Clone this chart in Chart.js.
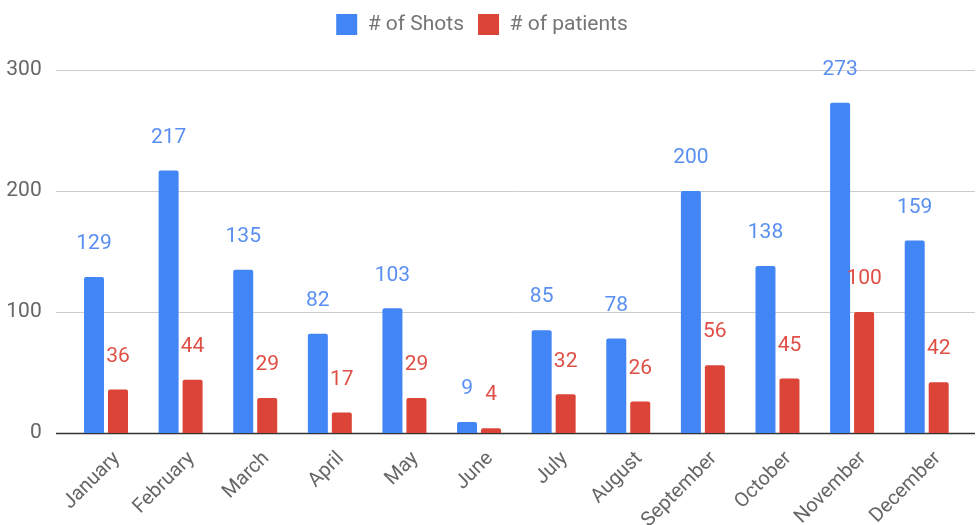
<!DOCTYPE html>
<html><head><meta charset="utf-8">
<script src="https://cdn.jsdelivr.net/npm/chart.js@4"></script>
<style>html,body{margin:0;padding:0;background:#fff}#wrap{width:977px;height:525px;position:relative}</style>
</head><body><div id="wrap"><canvas id="c"></canvas></div>
<script>
const categories = ["January","February","March","April","May","June","July","August","September","October","November","December"];
const shots = [129,217,135,82,103,9,85,78,200,138,273,159];
const patients = [36,44,29,17,29,4,32,26,56,45,100,42];
const yTicks = [0,100,200,300];
const seriesNames = ["# of Shots","# of patients"];

const FONT = "Roboto, 'Noto Sans', sans-serif";

const gridPlugin = {
  id: 'gridPlugin',
  beforeDatasetsDraw(chart){
    const ctx = chart.ctx, y = chart.scales.y;
    ctx.save();
    yTicks.forEach(v => {
      const py = Math.round(y.getPixelForValue(v)) + 0.5;
      ctx.beginPath();
      ctx.strokeStyle = v === 0 ? '#333333' : '#cccccc';
      ctx.lineWidth = v === 0 ? 1.5 : 1;
      ctx.moveTo(56, py); ctx.lineTo(975, py); ctx.stroke();
    });
    ctx.restore();
  }
};

const labelPlugin = {
  id: 'labelPlugin',
  afterDatasetsDraw(chart){
    const ctx = chart.ctx;
    ctx.save();
    ctx.font = "21px " + FONT;
    ctx.textAlign = 'center';
    ctx.textBaseline = 'middle';
    const colors = ['#5a8ff2', '#df4f45'];
    chart.data.datasets.forEach((ds, di) => {
      const meta = chart.getDatasetMeta(di);
      meta.data.forEach((bar, i) => {
        ctx.fillStyle = colors[di];
        ctx.fillText(String(ds.data[i]), bar.x, bar.y - 33);
      });
    });
    ctx.restore();
  }
};

const legendHeight = {
  id: 'legendHeight',
  beforeInit(chart){
    const orig = chart.legend.fit;
    chart.legend.fit = function(){ orig.call(this); this.height = 70; };
  }
};

new Chart(document.getElementById('c'), {
  type: 'bar',
  data: {
    labels: categories,
    datasets: [
      {label: seriesNames[0], data: shots, backgroundColor: '#4285F4', borderRadius: {topLeft:2, topRight:2}, borderSkipped: 'bottom'},
      {label: seriesNames[1], data: patients, backgroundColor: '#DB4437', borderRadius: {topLeft:2, topRight:2}, borderSkipped: 'bottom'}
    ]
  },
  options: {
    responsive: true,
    maintainAspectRatio: false,
    animation: false,
    layout: {padding: {left: 0, right: 13, top: 0, bottom: 0}},
    datasets: {bar: {categoryPercentage: 0.643, barPercentage: 0.833}},
    plugins: {
      legend: {
        display: true, position: 'top',
        labels: {font: {family: FONT, size: 21}, color: '#757575', boxWidth: 21, boxHeight: 21, padding: 14}
      },
      tooltip: {enabled: false}
    },
    scales: {
      x: {
        grid: {display: false}, border: {display: false},
        ticks: {font: {family: FONT, size: 20}, color: '#666666', autoSkip: false, maxRotation: 45, minRotation: 45, padding: 6, labelOffset: 11},
        afterFit(s){ s.height = 92; }
      },
      y: {
        min: 0, max: 300,
        grid: {display: false}, border: {display: false},
        ticks: {stepSize: 100, font: {family: FONT, size: 21}, color: '#666666', padding: 19},
        afterFit(s){ s.width = 68.7; }
      }
    }
  },
  plugins: [gridPlugin, labelPlugin, legendHeight]
});
</script></body></html>
